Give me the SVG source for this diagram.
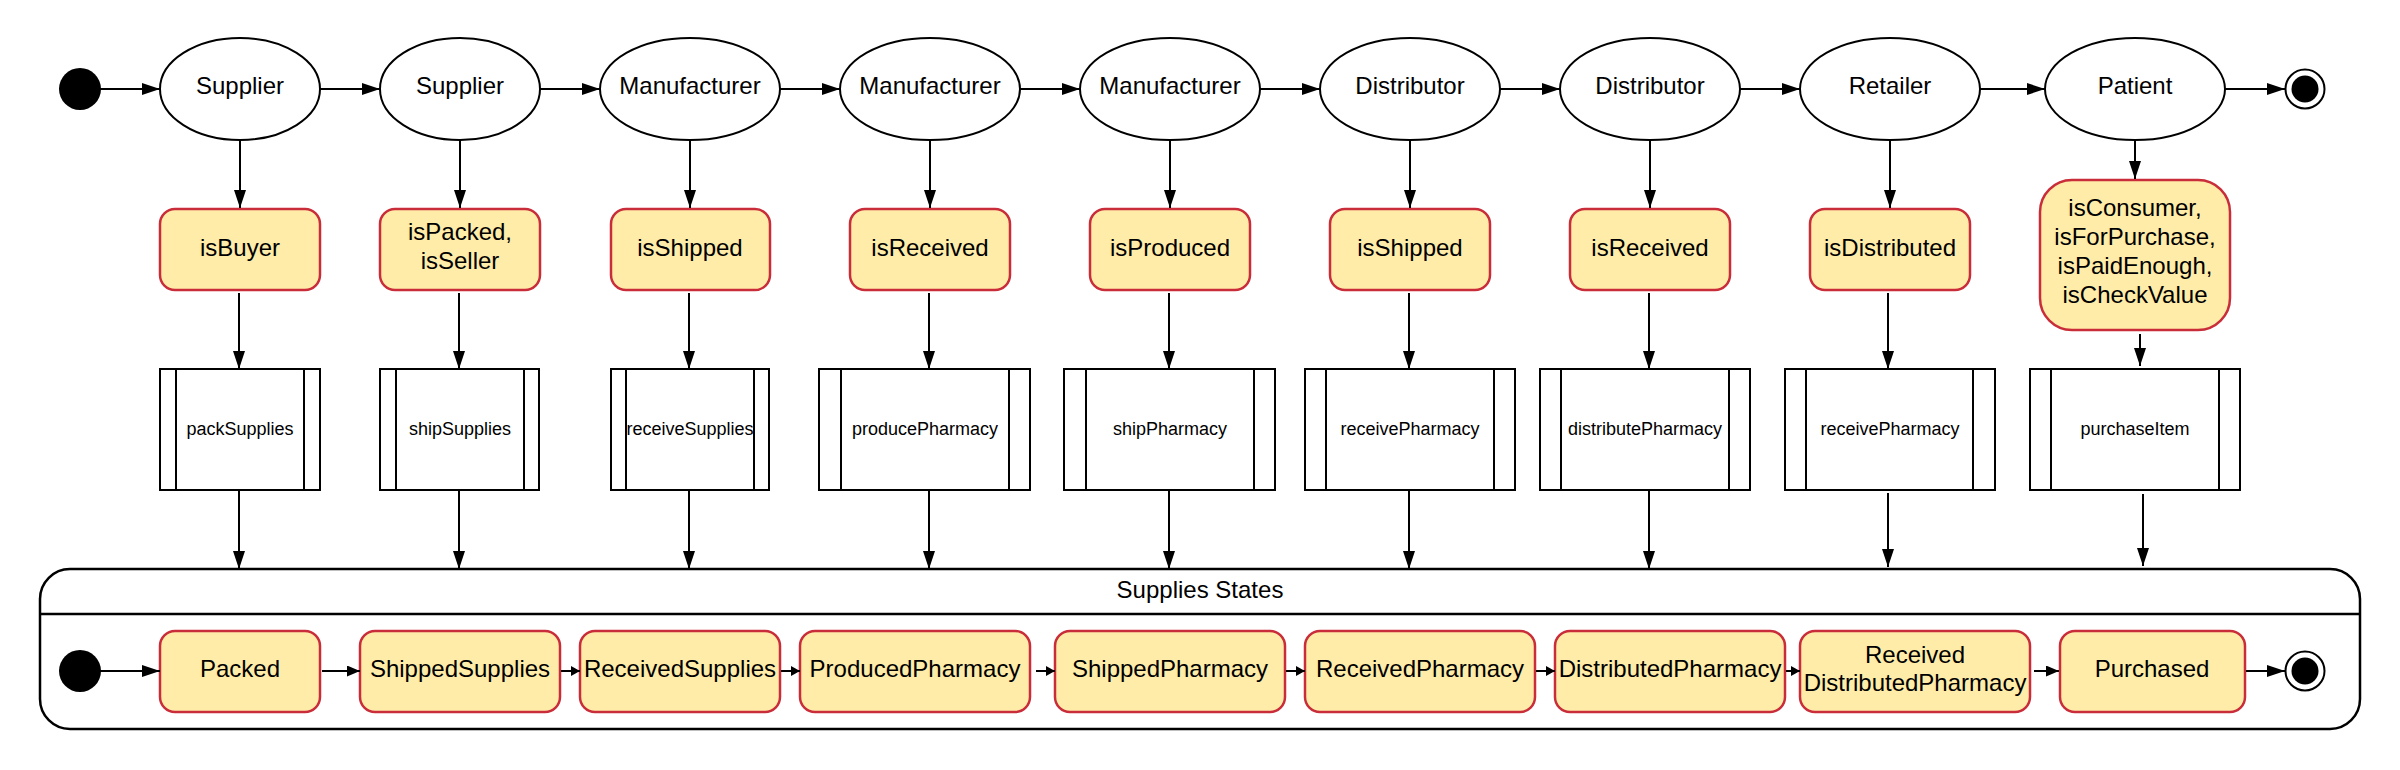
<svg xmlns="http://www.w3.org/2000/svg" width="2400" height="770" viewBox="0 0 2400 770">
<defs>
<style>
text{font-family:"Liberation Sans",Arial,sans-serif;fill:#000;text-anchor:middle}
.t24{font-size:24px}
.t18{font-size:18px}
.actor{fill:#fff;stroke:#000;stroke-width:2}
.cond{fill:#ffeca9;stroke:#c92d39;stroke-width:2.5}
.proc{fill:#fff;stroke:#000;stroke-width:2}
.bar{stroke:#000;stroke-width:2}
.cont{fill:#fff;stroke:#000;stroke-width:2.5}
.c{fill:none;stroke:#000;stroke-width:2}
.big{marker-end:url(#ab)}
.md{marker-end:url(#am)}
.sm{marker-end:url(#as)}
</style>
<marker id="ab" markerUnits="userSpaceOnUse" markerWidth="18" markerHeight="12" refX="18" refY="6" orient="auto"><path d="M0,0 L18,6 L0,12 z" fill="#000"/></marker>
<marker id="am" markerUnits="userSpaceOnUse" markerWidth="13" markerHeight="11" refX="13" refY="5.5" orient="auto"><path d="M0,0 L13,5.5 L0,11 z" fill="#000"/></marker>
<marker id="as" markerUnits="userSpaceOnUse" markerWidth="9" markerHeight="10" refX="9" refY="5" orient="auto"><path d="M0,0 L9,5 L0,10 z" fill="#000"/></marker>
</defs>
<rect width="2400" height="770" fill="#fff"/>

<g id="start"><circle cx="80" cy="89" r="21" fill="#000"/></g>
<g id="a1"><ellipse class="actor" cx="240" cy="89" rx="80" ry="51"/><text class="t24" x="240" y="94">Supplier</text></g>
<g id="a2"><ellipse class="actor" cx="460" cy="89" rx="80" ry="51"/><text class="t24" x="460" y="94">Supplier</text></g>
<g id="a3"><ellipse class="actor" cx="690" cy="89" rx="90" ry="51"/><text class="t24" x="690" y="94">Manufacturer</text></g>
<g id="a4"><ellipse class="actor" cx="930" cy="89" rx="90" ry="51"/><text class="t24" x="930" y="94">Manufacturer</text></g>
<g id="a5"><ellipse class="actor" cx="1170" cy="89" rx="90" ry="51"/><text class="t24" x="1170" y="94">Manufacturer</text></g>
<g id="a6"><ellipse class="actor" cx="1410" cy="89" rx="90" ry="51"/><text class="t24" x="1410" y="94">Distributor</text></g>
<g id="a7"><ellipse class="actor" cx="1650" cy="89" rx="90" ry="51"/><text class="t24" x="1650" y="94">Distributor</text></g>
<g id="a8"><ellipse class="actor" cx="1890" cy="89" rx="90" ry="51"/><text class="t24" x="1890" y="94">Retailer</text></g>
<g id="a9"><ellipse class="actor" cx="2135" cy="89" rx="90" ry="51"/><text class="t24" x="2135" y="94">Patient</text></g>
<g id="end"><circle cx="2305" cy="89" r="19.5" fill="#fff" stroke="#000" stroke-width="2"/><circle cx="2305" cy="89" r="13.5" fill="#000"/></g>

<g id="c1"><rect class="cond" x="160" y="209" width="160" height="81" rx="15"/><text class="t24" x="240" y="256">isBuyer</text></g>
<g id="c2"><rect class="cond" x="380" y="209" width="160" height="81" rx="15"/><text class="t24" x="460" y="240">isPacked,</text><text class="t24" x="460" y="269">isSeller</text></g>
<g id="c3"><rect class="cond" x="611" y="209" width="159" height="81" rx="15"/><text class="t24" x="690" y="256">isShipped</text></g>
<g id="c4"><rect class="cond" x="850" y="209" width="160" height="81" rx="15"/><text class="t24" x="930" y="256">isReceived</text></g>
<g id="c5"><rect class="cond" x="1090" y="209" width="160" height="81" rx="15"/><text class="t24" x="1170" y="256">isProduced</text></g>
<g id="c6"><rect class="cond" x="1330" y="209" width="160" height="81" rx="15"/><text class="t24" x="1410" y="256">isShipped</text></g>
<g id="c7"><rect class="cond" x="1570" y="209" width="160" height="81" rx="15"/><text class="t24" x="1650" y="256">isReceived</text></g>
<g id="c8"><rect class="cond" x="1810" y="209" width="160" height="81" rx="15"/><text class="t24" x="1890" y="256">isDistributed</text></g>
<g id="c9"><rect class="cond" x="2040" y="180" width="190" height="150" rx="32"/><text class="t24" x="2135" y="216">isConsumer,</text><text class="t24" x="2135" y="245">isForPurchase,</text><text class="t24" x="2135" y="274">isPaidEnough,</text><text class="t24" x="2135" y="303">isCheckValue</text></g>

<g id="p1"><rect class="proc" x="160" y="369" width="160" height="121"/><line class="bar" x1="176" y1="369" x2="176" y2="490"/><line class="bar" x1="304" y1="369" x2="304" y2="490"/><text class="t18" x="240" y="435">packSupplies</text></g>
<g id="p2"><rect class="proc" x="380" y="369" width="159" height="121"/><line class="bar" x1="396" y1="369" x2="396" y2="490"/><line class="bar" x1="524" y1="369" x2="524" y2="490"/><text class="t18" x="460" y="435">shipSupplies</text></g>
<g id="p3"><rect class="proc" x="611" y="369" width="158" height="121"/><line class="bar" x1="626" y1="369" x2="626" y2="490"/><line class="bar" x1="754" y1="369" x2="754" y2="490"/><text class="t18" x="690" y="435">receiveSupplies</text></g>
<g id="p4"><rect class="proc" x="819" y="369" width="211" height="121"/><line class="bar" x1="841" y1="369" x2="841" y2="490"/><line class="bar" x1="1009" y1="369" x2="1009" y2="490"/><text class="t18" x="925" y="435">producePharmacy</text></g>
<g id="p5"><rect class="proc" x="1064" y="369" width="211" height="121"/><line class="bar" x1="1086" y1="369" x2="1086" y2="490"/><line class="bar" x1="1254" y1="369" x2="1254" y2="490"/><text class="t18" x="1170" y="435">shipPharmacy</text></g>
<g id="p6"><rect class="proc" x="1305" y="369" width="210" height="121"/><line class="bar" x1="1326" y1="369" x2="1326" y2="490"/><line class="bar" x1="1494" y1="369" x2="1494" y2="490"/><text class="t18" x="1410" y="435">receivePharmacy</text></g>
<g id="p7"><rect class="proc" x="1540" y="369" width="210" height="121"/><line class="bar" x1="1561" y1="369" x2="1561" y2="490"/><line class="bar" x1="1729" y1="369" x2="1729" y2="490"/><text class="t18" x="1645" y="435">distributePharmacy</text></g>
<g id="p8"><rect class="proc" x="1785" y="369" width="210" height="121"/><line class="bar" x1="1806" y1="369" x2="1806" y2="490"/><line class="bar" x1="1973" y1="369" x2="1973" y2="490"/><text class="t18" x="1890" y="435">receivePharmacy</text></g>
<g id="p9"><rect class="proc" x="2030" y="369" width="210" height="121"/><line class="bar" x1="2051" y1="369" x2="2051" y2="490"/><line class="bar" x1="2219" y1="369" x2="2219" y2="490"/><text class="t18" x="2135" y="435">purchaseItem</text></g>

<g id="supplies-states">
<rect class="cont" x="40" y="569" width="2320" height="160" rx="30"/>
<line x1="40" y1="614" x2="2360" y2="614" stroke="#000" stroke-width="2.5"/>
<text class="t24" x="1200" y="598">Supplies States</text>
</g>
<g id="s0"><circle cx="80" cy="671" r="21" fill="#000"/></g>
<g id="s1"><rect class="cond" x="160" y="631" width="160" height="81" rx="15"/><text class="t24" x="240" y="677">Packed</text></g>
<g id="s2"><rect class="cond" x="360" y="631" width="200" height="81" rx="15"/><text class="t24" x="460" y="677">ShippedSupplies</text></g>
<g id="s3"><rect class="cond" x="580" y="631" width="200" height="81" rx="15"/><text class="t24" x="680" y="677">ReceivedSupplies</text></g>
<g id="s4"><rect class="cond" x="800" y="631" width="230" height="81" rx="15"/><text class="t24" x="915" y="677">ProducedPharmacy</text></g>
<g id="s5"><rect class="cond" x="1055" y="631" width="230" height="81" rx="15"/><text class="t24" x="1170" y="677">ShippedPharmacy</text></g>
<g id="s6"><rect class="cond" x="1305" y="631" width="230" height="81" rx="15"/><text class="t24" x="1420" y="677">ReceivedPharmacy</text></g>
<g id="s7"><rect class="cond" x="1555" y="631" width="230" height="81" rx="15"/><text class="t24" x="1670" y="677">DistributedPharmacy</text></g>
<g id="s8"><rect class="cond" x="1800" y="631" width="230" height="81" rx="15"/><text class="t24" x="1915" y="663">Received</text><text class="t24" x="1915" y="691">DistributedPharmacy</text></g>
<g id="s9"><rect class="cond" x="2060" y="631" width="185" height="81" rx="15"/><text class="t24" x="2152" y="677">Purchased</text></g>
<g id="s10"><circle cx="2305" cy="671" r="19.5" fill="#fff" stroke="#000" stroke-width="2"/><circle cx="2305" cy="671" r="13.5" fill="#000"/></g>

<g id="connectors">
<line class="c big" x1="100" y1="89" x2="160" y2="89"/>
<line class="c big" x1="320" y1="89" x2="380" y2="89"/>
<line class="c big" x1="540" y1="89" x2="600" y2="89"/>
<line class="c big" x1="780" y1="89" x2="840" y2="89"/>
<line class="c big" x1="1020" y1="89" x2="1080" y2="89"/>
<line class="c big" x1="1260" y1="89" x2="1320" y2="89"/>
<line class="c big" x1="1500" y1="89" x2="1560" y2="89"/>
<line class="c big" x1="1740" y1="89" x2="1800" y2="89"/>
<line class="c big" x1="1980" y1="89" x2="2045" y2="89"/>
<line class="c big" x1="2225" y1="89" x2="2285" y2="89"/>

<line class="c big" x1="240" y1="140" x2="240" y2="208"/>
<line class="c big" x1="460" y1="140" x2="460" y2="208"/>
<line class="c big" x1="690" y1="140" x2="690" y2="208"/>
<line class="c big" x1="930" y1="140" x2="930" y2="208"/>
<line class="c big" x1="1170" y1="140" x2="1170" y2="208"/>
<line class="c big" x1="1410" y1="140" x2="1410" y2="208"/>
<line class="c big" x1="1650" y1="140" x2="1650" y2="208"/>
<line class="c big" x1="1890" y1="140" x2="1890" y2="208"/>
<line class="c big" x1="2135" y1="140" x2="2135" y2="179"/>

<line class="c big" x1="239" y1="293" x2="239" y2="369"/>
<line class="c big" x1="459" y1="293" x2="459" y2="369"/>
<line class="c big" x1="689" y1="293" x2="689" y2="369"/>
<line class="c big" x1="929" y1="293" x2="929" y2="369"/>
<line class="c big" x1="1169" y1="293" x2="1169" y2="369"/>
<line class="c big" x1="1409" y1="293" x2="1409" y2="369"/>
<line class="c big" x1="1649" y1="293" x2="1649" y2="369"/>
<line class="c big" x1="1888" y1="293" x2="1888" y2="369"/>
<line class="c big" x1="2140" y1="334" x2="2140" y2="366"/>

<line class="c big" x1="239" y1="490" x2="239" y2="569"/>
<line class="c big" x1="459" y1="490" x2="459" y2="569"/>
<line class="c big" x1="689" y1="490" x2="689" y2="569"/>
<line class="c big" x1="929" y1="490" x2="929" y2="569"/>
<line class="c big" x1="1169" y1="490" x2="1169" y2="569"/>
<line class="c big" x1="1409" y1="490" x2="1409" y2="569"/>
<line class="c big" x1="1649" y1="490" x2="1649" y2="569"/>
<line class="c big" x1="1888" y1="493" x2="1888" y2="567"/>
<line class="c big" x1="2143" y1="494" x2="2143" y2="566"/>

<line class="c big" x1="100" y1="671" x2="160" y2="671"/>
<line class="c md" x1="322" y1="671" x2="360" y2="671"/>
<line class="c sm" x1="561" y1="671" x2="580" y2="671"/>
<line class="c sm" x1="781" y1="671" x2="800" y2="671"/>
<line class="c sm" x1="1036" y1="671" x2="1055" y2="671"/>
<line class="c sm" x1="1286" y1="671" x2="1305" y2="671"/>
<line class="c sm" x1="1536" y1="671" x2="1555" y2="671"/>
<line class="c sm" x1="1786" y1="671" x2="1800" y2="671"/>
<line class="c md" x1="2034" y1="671" x2="2059" y2="671"/>
<line class="c big" x1="2246" y1="671" x2="2285" y2="671"/>
</g>
</svg>
